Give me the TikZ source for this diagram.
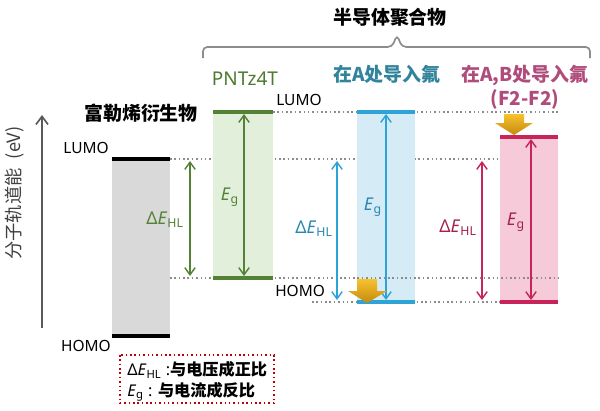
\documentclass[tikz,border=0pt]{standalone}
\usepackage{fontspec}
\setmainfont{Noto Sans}
\newfontfamily\cjk{Noto Sans CJK SC}
\usetikzlibrary{arrows.meta}
\definecolor{grnline}{HTML}{548235}
\definecolor{grnfill}{HTML}{E2EFDA}
\definecolor{grntext}{HTML}{4E7A30}
\definecolor{bluline}{HTML}{2EA3D6}
\definecolor{blufill}{HTML}{D5ECF7}
\definecolor{blutext}{HTML}{31849B}
\definecolor{bluelbl}{HTML}{2A86B0}
\definecolor{pnkline}{HTML}{C8245A}
\definecolor{pnkfill}{HTML}{F6CAD8}
\definecolor{pnktext}{HTML}{B04C7C}
\definecolor{pnklbl}{HTML}{A3204F}
\definecolor{axisgray}{HTML}{595959}
\definecolor{ylabgray}{HTML}{404040}
\definecolor{guidegray}{HTML}{8C8C8C}
\definecolor{legendred}{HTML}{C00000}
\definecolor{shifttop}{HTML}{F8C22C}
\definecolor{shiftbot}{HTML}{C48A10}
\tikzset{
    levelline/.style={line width=2.2pt},
    gaparrow/.style={line width=1pt, {Straight Barb[length=1.8mm,width=2.6mm]}-{Straight Barb[length=1.8mm,width=2.6mm]}},
    guide/.style={guidegray, line width=1.1pt, dotted},
    orbtext/.style={inner sep=0pt, font=\fontsize{11}{13}\selectfont},
    gaptext/.style={inner sep=0pt, font=\fontsize{12.5}{14}\selectfont},
    titletext/.style={inner sep=0pt, font=\cjk\bfseries\fontsize{13.5}{17}\selectfont},
    fatarrow/.style={top color=shifttop, bottom color=shiftbot},
}
\newcommand{\dEHL}{Δ\textit{E}\textsubscript{HL}}
\newcommand{\Eg}{\textit{E}\textsubscript{g}}

\begin{document}
\begin{tikzpicture}[x=0.025cm, y=-0.025cm]
\useasboundingbox (0,0) rectangle (600,410);

% energy axis
\draw[axisgray, line width=1.2pt, -{Straight Barb[length=2mm,width=3mm]}] (42,328) -- (42,115);
\node[rotate=90, inner sep=0pt, text=ylabgray, font=\cjk\fontsize{13}{15}\selectfont] (ylab) at (15,193) {分子轨道能\enspace(eV)};

% guide lines below the boxes
\draw[guide] (170,159) -- (500,159);
\draw[guide] (273,112) -- (558,112);
\draw[guide] (312,302) -- (500,302);

% boxes
\fill[gray!30] (112,159) rectangle (170,336);
\fill[grnfill] (213,112) rectangle (273,278);
\fill[blufill] (357,112) rectangle (415,302);
\fill[pnkfill] (500,137) rectangle (558,302);

\draw[guide] (170,278) -- (558,278);

% levels
\draw[levelline, black] (112,159) -- (170,159);
\draw[levelline, black] (112,336) -- (170,336);
\draw[levelline, grnline] (213,112) -- (273,112);
\draw[levelline, grnline] (213,278) -- (273,278);
\draw[levelline, bluline] (357,112) -- (415,112);
\draw[levelline, bluline] (357,302) -- (415,302);
\draw[levelline, pnkline] (500,137) -- (558,137);
\draw[levelline, pnkline] (500,302) -- (558,302);

% gaps
\draw[gaparrow, grnline] (190,161) -- (190,276);
\draw[gaparrow, grnline] (244,114) -- (244,276);
\draw[gaparrow, bluline] (337,161) -- (337,300);
\draw[gaparrow, bluline] (386,114) -- (386,300);
\draw[gaparrow, pnkline] (482,161) -- (482,300);
\draw[gaparrow, pnkline] (531,139) -- (531,300);

\node[gaptext, text=grnline, anchor=east] (ghl) at (184,220) {\dEHL};
\node[gaptext, text=grnline] (geg) at (230,197) {\Eg};
\node[gaptext, text=bluelbl, anchor=east] (bhl) at (333,229) {\dEHL};
\node[gaptext, text=bluelbl] (beg) at (373,207) {\Eg};
\node[gaptext, text=pnklbl, anchor=east] (phl) at (477,228) {\dEHL};
\node[gaptext, text=pnklbl] (peg) at (516,222) {\Eg};

% orbital labels
\node[orbtext, anchor=east] (flumo) at (109,148) {LUMO};
\node[orbtext, anchor=east] (fhomo) at (111,346) {HOMO};
\node[orbtext, anchor=west] (plumo) at (276,100) {LUMO};
\node[orbtext, anchor=west] (phomo) at (275,291) {HOMO};

% titles
\node[titletext] (fuller) at (141,113) {富勒烯衍生物};
\node[titletext] (semi) at (390,17) {半导体聚合物};
\node[inner sep=0pt, text=grntext, font=\fontsize{13.5}{16}\selectfont] (pntz) at (245,79) {PNTz4T};
\node[titletext, text=blutext] (fa) at (387,74) {在A处导入氟};
\node[titletext, text=pnktext, align=center, anchor=north] (fab) at (525,65) {在A,B处导入氟\\(F2-F2)};

% brace over the polymers
\draw[guidegray, line width=1.2pt, rounded corners=3pt]
    (203,58) -- (203,47) -- (392,47) -- (397,35) -- (402,47) -- (590,47) -- (590,58);

% shifts
\shade[fatarrow] (348,291) -- (357,291) -- (357,279) -- (377,279) -- (377,291) -- (387,291) -- (367,303) -- cycle;
\shade[fatarrow] (495,123) -- (504,123) -- (504,114) -- (524,114) -- (524,123) -- (533,123) -- (514,135) -- cycle;

% legend
\draw[legendred, line width=1.1pt, dotted] (120,355) rectangle (274,403);
\node[inner sep=0pt, anchor=west, font=\bfseries\fontsize{11.5}{13}\selectfont] (leg1) at (127,370) {\dEHL\ :{\cjk 与电压成正比}};
\node[inner sep=0pt, anchor=west, font=\bfseries\fontsize{11.5}{13}\selectfont] (leg2) at (127,392) {\Eg\ : {\cjk 与电流成反比}};
\end{tikzpicture}
\end{document}
